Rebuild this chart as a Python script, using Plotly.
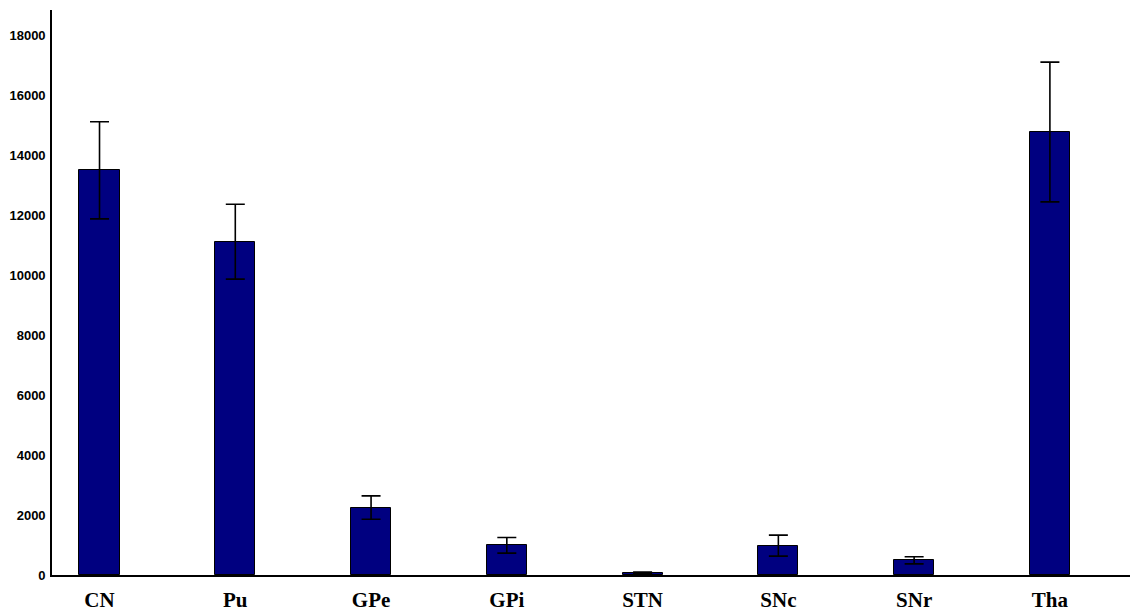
import plotly.graph_objects as go

regions = ["CN", "Pu", "GPe", "GPi", "STN", "SNc", "SNr", "Tha"]
values = [13500, 11120, 2250, 990, 75, 980, 490, 14780]
errors = [1620, 1250, 390, 260, 25, 350, 120, 2330]
y_ticks = [0, 2000, 4000, 6000, 8000, 10000, 12000, 14000, 16000, 18000]

fig = go.Figure()
fig.add_trace(go.Bar(
    x=regions, y=values,
    width=0.295,
    marker=dict(color="#000080", line=dict(color="black", width=1)),
    error_y=dict(type="data", array=errors, visible=True,
                 color="black", thickness=1.6, width=9.5),
    showlegend=False,
))

fig.update_layout(
    width=1130, height=612,
    margin=dict(l=52, r=0, t=10, b=34),
    paper_bgcolor="white", plot_bgcolor="white",
    bargap=0,
)
fig.update_xaxes(
    range=[-0.35, 7.59],
    showline=True, linecolor="black", linewidth=1.6,
    showgrid=False, zeroline=False,
    ticks="outside", ticklen=5, tickcolor="rgba(0,0,0,0)",
    tickfont=dict(family="Liberation Serif", size=21, color="black", weight="bold"),
)
fig.update_yaxes(
    range=[0, 18850],
    tickvals=y_ticks, ticktext=[str(v) for v in y_ticks],
    showline=True, linecolor="black", linewidth=1.6,
    showgrid=False, zeroline=False,
    ticks="outside", ticklen=2, tickcolor="rgba(0,0,0,0)",
    tickfont=dict(family="Liberation Sans", size=13, color="black", weight="bold"),
)

fig.write_html("out.html")
